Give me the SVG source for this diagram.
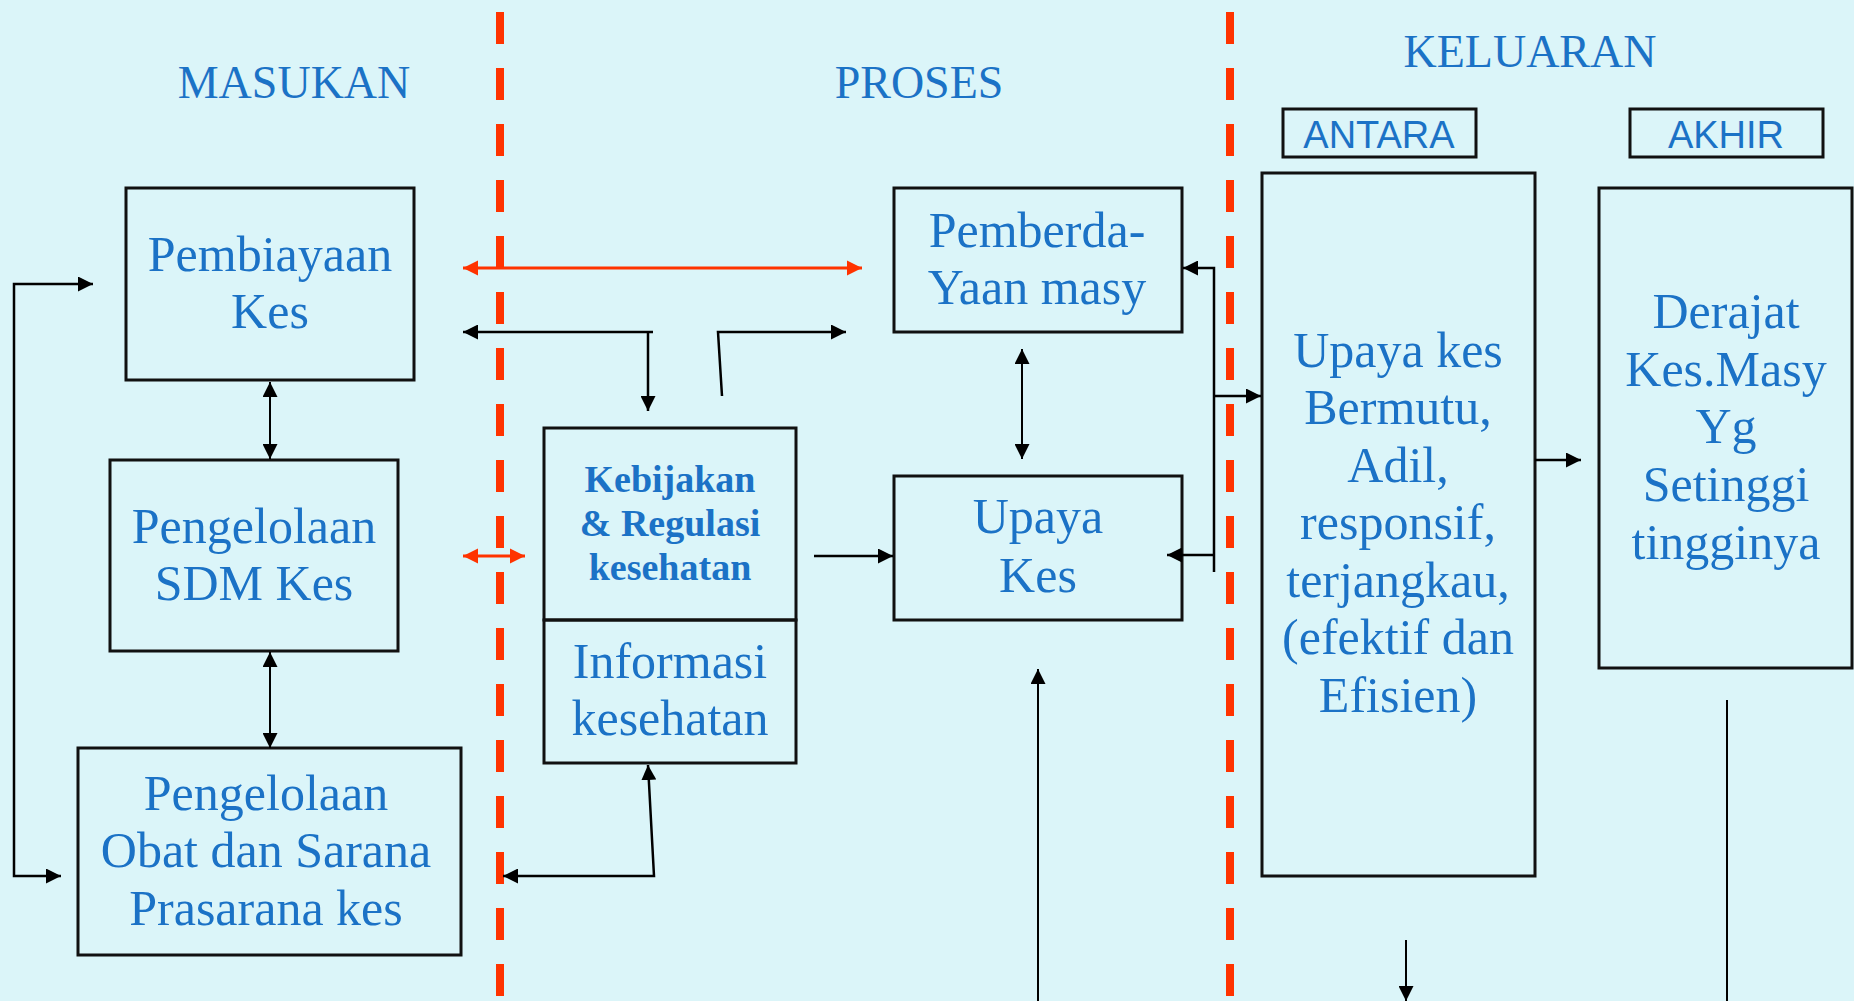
<svg xmlns="http://www.w3.org/2000/svg" width="1854" height="1001" viewBox="0 0 1854 1001">
<style>
.bg{fill:#DBF5F9}
.box{fill:none;stroke:#111;stroke-width:3}
.t{font-family:"Liberation Serif","Times New Roman",serif;font-size:50px;fill:#1B72C6;text-anchor:middle}
.h{font-family:"Liberation Serif","Times New Roman",serif;font-size:46px;fill:#1B72C6;text-anchor:middle}
.b{font-family:"Liberation Serif","Times New Roman",serif;font-size:38px;font-weight:bold;fill:#1B72C6;text-anchor:middle}
.s{font-family:"Liberation Sans",Arial,sans-serif;font-size:38px;fill:#1B72C6;text-anchor:middle}
.sep{stroke:#FF3300;stroke-width:8;stroke-dasharray:32 24;fill:none}
.c{fill:none;stroke:#000;stroke-width:2.5}
.c2{fill:none;stroke:#000;stroke-width:2}
.r{fill:none;stroke:#FF3300;stroke-width:3}
</style>
<defs>
<marker id="a" viewBox="0 0 10 10" refX="10" refY="5" markerUnits="userSpaceOnUse" markerWidth="15" markerHeight="15" orient="auto-start-reverse"><path d="M0,0 L10,5 L0,10 z" fill="#000"/></marker>
<marker id="ar" viewBox="0 0 10 10" refX="10" refY="5" markerUnits="userSpaceOnUse" markerWidth="15" markerHeight="16" orient="auto-start-reverse"><path d="M0,0 L10,5 L0,10 z" fill="#FF3300"/></marker>
</defs>
<rect class="bg" x="0" y="0" width="1854" height="1001"/>

<g id="separators">
<line class="sep" x1="500" y1="12" x2="500" y2="1001"/>
<line class="sep" x1="1230" y1="12" x2="1230" y2="1001"/>
</g>

<g id="headers">
<text class="h" x="294" y="98">MASUKAN</text>
<text class="h" x="919" y="98">PROSES</text>
<text class="h" x="1530" y="67">KELUARAN</text>
</g>

<g id="antara">
<rect class="box" x="1283" y="109" width="193" height="48"/>
<text class="s" x="1379" y="148">ANTARA</text>
</g>
<g id="akhir">
<rect class="box" x="1630" y="109" width="193" height="48"/>
<text class="s" x="1726" y="148">AKHIR</text>
</g>

<g id="pembiayaan">
<rect class="box" x="126" y="188" width="288" height="192"/>
<text class="t" x="270" y="271">Pembiayaan</text>
<text class="t" x="270" y="328">Kes</text>
</g>

<g id="sdm">
<rect class="box" x="110" y="460" width="288" height="191"/>
<text class="t" x="254" y="543">Pengelolaan</text>
<text class="t" x="254" y="600">SDM Kes</text>
</g>

<g id="obat">
<rect class="box" x="78" y="748" width="383" height="207"/>
<text class="t" x="266" y="810">Pengelolaan</text>
<text class="t" x="266" y="867">Obat dan Sarana</text>
<text class="t" x="266" y="925">Prasarana kes</text>
</g>

<g id="kebijakan">
<rect class="box" x="544" y="428" width="252" height="192"/>
<text class="b" x="670" y="492">Kebijakan</text>
<text class="b" x="670" y="536">&amp; Regulasi</text>
<text class="b" x="670" y="580">kesehatan</text>
</g>

<g id="informasi">
<rect class="box" x="544" y="620" width="252" height="143"/>
<text class="t" x="670" y="678">Informasi</text>
<text class="t" x="670" y="735">kesehatan</text>
</g>

<g id="pemberdayaan">
<rect class="box" x="894" y="188" width="288" height="144"/>
<text class="t" x="1037" y="247">Pemberda-</text>
<text class="t" x="1037" y="304">Yaan masy</text>
</g>

<g id="upaya">
<rect class="box" x="894" y="476" width="288" height="144"/>
<text class="t" x="1038" y="533">Upaya</text>
<text class="t" x="1038" y="592">Kes</text>
</g>

<g id="bermutu">
<rect class="box" x="1262" y="173" width="273" height="703"/>
<text class="t" x="1398" y="367">Upaya kes</text>
<text class="t" x="1398" y="424">Bermutu,</text>
<text class="t" x="1398" y="482">Adil,</text>
<text class="t" x="1398" y="539">responsif,</text>
<text class="t" x="1398" y="597">terjangkau,</text>
<text class="t" x="1398" y="654">(efektif dan</text>
<text class="t" x="1398" y="712">Efisien)</text>
</g>

<g id="derajat">
<rect class="box" x="1599" y="188" width="253" height="480"/>
<text class="t" x="1726" y="328">Derajat</text>
<text class="t" x="1726" y="386">Kes.Masy</text>
<text class="t" x="1726" y="443">Yg</text>
<text class="t" x="1726" y="501">Setinggi</text>
<text class="t" x="1726" y="559">tingginya</text>
</g>

<g id="connectors">
<path class="c" d="M93,284 H14 V876 H61" marker-start="url(#a)" marker-end="url(#a)"/>
<path class="c2" d="M270,382 V459" marker-start="url(#a)" marker-end="url(#a)"/>
<path class="c2" d="M270,652 V748" marker-start="url(#a)" marker-end="url(#a)"/>
<path class="r" d="M463,268 H862" marker-start="url(#ar)" marker-end="url(#ar)"/>
<path class="c" d="M463,332 H653" marker-start="url(#a)"/>
<path class="c" d="M648,332 V411" marker-end="url(#a)"/>
<path class="c" d="M722,396 L718,332 H846" marker-end="url(#a)"/>
<path class="r" d="M463,556 H525" marker-start="url(#ar)" marker-end="url(#ar)"/>
<path class="c" d="M814,556 H893" marker-end="url(#a)"/>
<path class="c" d="M503,876 H654 L648,765" marker-start="url(#a)" marker-end="url(#a)"/>
<path class="c2" d="M1022,349 V459" marker-start="url(#a)" marker-end="url(#a)"/>
<path class="c" d="M1183,268 H1214 V572" marker-start="url(#a)"/>
<path class="c" d="M1214,396 H1261" marker-end="url(#a)"/>
<path class="c" d="M1214,555 H1167" marker-end="url(#a)"/>
<path class="c" d="M1535,460 H1581" marker-end="url(#a)"/>
<path class="c2" d="M1038,1001 V669" marker-end="url(#a)"/>
<path class="c2" d="M1406,940 V1001" marker-end="url(#a)"/>
<path class="c2" d="M1727,700 V1001"/>
</g>
</svg>
